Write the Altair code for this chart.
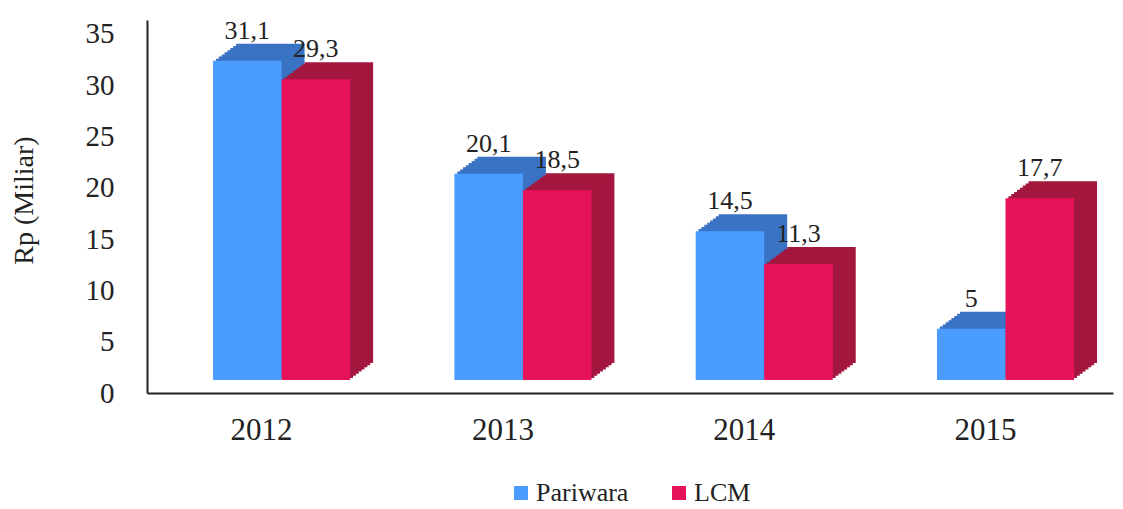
import altair as alt
import pandas as pd

years = ["2012", "2013", "2014", "2015"]
series = ["Pariwara", "LCM"]
pariwara = [31.1, 20.1, 14.5, 5]
lcm = [29.3, 18.5, 11.3, 17.7]
labels_p = ["31,1", "20,1", "14,5", "5"]
labels_l = ["29,3", "18,5", "11,3", "17,7"]
y_ticks = [0, 5, 10, 15, 20, 25, 30, 35]

front_colors = ["#4a9cff", "#e8125a"]
side_colors = ["#3a73c4", "#a3173f"]

rows = []
for i, yr in enumerate(years):
    rows.append({"Year": yr, "Series": "Pariwara", "Value": pariwara[i], "Label": labels_p[i]})
    rows.append({"Year": yr, "Series": "LCM", "Value": lcm[i], "Label": labels_l[i]})
df = pd.DataFrame(rows)

FONT = "Times New Roman"
TXT = "#222222"

BAND = 137.06      # width of one year group (front faces)
DEPTH_X = 23       # 3D depth, horizontal
DEPTH_Y = 17       # 3D depth, vertical
LIFT = 13          # bars stand on a floor above the axis line
STEPS = 8

x_enc = alt.X(
    "Year:N", sort=years,
    scale=alt.Scale(paddingInner=0.432, paddingOuter=0.2176, align=0.629),
    axis=alt.Axis(title=None, labelAngle=0, labelFont=FONT, labelFontSize=31,
                  labelColor=TXT, labelPadding=22, labelOffset=-20, ticks=False,
                  domainColor=TXT, domainWidth=2),
)
xo_front = alt.XOffset("Series:N", sort=series, scale=alt.Scale(paddingInner=0, paddingOuter=0))
y_enc = alt.Y(
    "Value:Q",
    scale=alt.Scale(domain=[0, 36.35], nice=False),
    axis=alt.Axis(values=y_ticks, title="Rp (Miliar)", grid=False, ticks=False,
                  labelFont=FONT, labelFontSize=29, labelColor=TXT, labelPadding=33,
                  domainColor=TXT, domainWidth=2,
                  titleFont=FONT, titleFontSize=28, titleFontWeight="normal", titleColor=TXT,
                  titleAngle=-90, titleX=-123, titleY=180, titleAlign="center",
                  titleBaseline="middle"),
)

base = alt.Chart(df)

# extruded depth of the 3D bars, drawn as a few stepped copies behind the fronts
depth_layers = []
for k in range(STEPS, 0, -1):
    dx = DEPTH_X * k / STEPS
    dy = DEPTH_Y * k / STEPS
    depth_layers.append(
        base.mark_bar(yOffset=-(LIFT + dy)).encode(
            x=x_enc,
            xOffset=alt.XOffset("Series:N", sort=series,
                                scale=alt.Scale(paddingInner=0, paddingOuter=0,
                                                range=[dx, BAND + dx])),
            y=y_enc,
            color=alt.Color("Series:N", sort=series,
                            scale=alt.Scale(domain=series, range=side_colors), legend=None),
        )
    )

front = base.mark_bar(yOffset=-LIFT).encode(
    x=x_enc, xOffset=xo_front, y=y_enc,
    color=alt.Color("Series:N", sort=series,
                    scale=alt.Scale(domain=series, range=front_colors),
                    legend=alt.Legend(title=None, orient="none", legendX=361, legendY=460,
                                      direction="horizontal", symbolType="square",
                                      symbolSize=196, symbolStrokeWidth=0,
                                      labelFont=FONT, labelFontSize=26, labelColor=TXT,
                                      labelOffset=2, columnPadding=37, padding=0)),
)

text = base.mark_text(dy=-35, baseline="alphabetic", font=FONT, fontSize=26, color=TXT).encode(
    x=x_enc, xOffset=xo_front, y=y_enc, text="Label:N",
)

front_group = alt.layer(front, text)

chart = alt.layer(*depth_layers, front_group).resolve_scale(
    color="independent", xOffset="independent"
).properties(
    width=966, height=373,
    padding={"left": 139, "top": 12, "right": 2, "bottom": 114},
    autosize=alt.AutoSizeParams(type="none"),
).configure_view(stroke=None)

chart.save("out.html", embed_options={"renderer": "svg", "actions": False})
